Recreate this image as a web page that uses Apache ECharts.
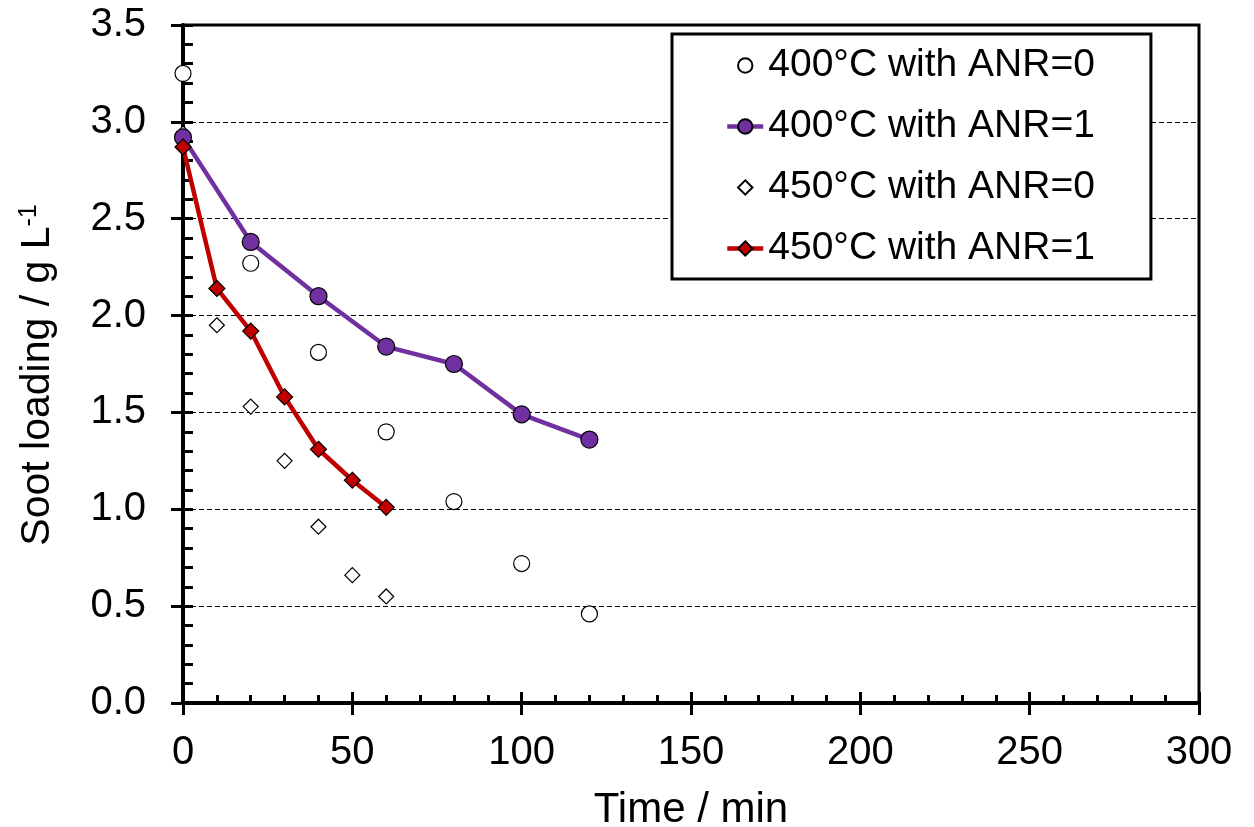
<!DOCTYPE html>
<html>
<head>
<meta charset="utf-8">
<script src="https://cdn.jsdelivr.net/npm/echarts@6/dist/echarts.min.js"></script>
<style>html,body{margin:0;padding:0;background:#fff;}#chart{width:1254px;height:827px;}</style>
</head>
<body>
<div id="chart"></div>
<script>
// Data
const seriesNames = ['400°C with ANR=0', '400°C with ANR=1', '450°C with ANR=0', '450°C with ANR=1'];
const time400 = [0, 20, 40, 60, 80, 100, 120];
const soot400ANR0 = [3.25, 2.27, 1.81, 1.40, 1.04, 0.72, 0.46];
const soot400ANR1 = [2.92, 2.38, 2.10, 1.84, 1.75, 1.49, 1.36];
const time450 = [0, 10, 20, 30, 40, 50, 60];
const soot450ANR0 = [2.94, 1.95, 1.53, 1.25, 0.91, 0.66, 0.55];
const soot450ANR1 = [2.87, 2.14, 1.92, 1.58, 1.31, 1.15, 1.01];
const xTicks = [0, 50, 100, 150, 200, 250, 300];
const yTicks = [0, 0.5, 1.0, 1.5, 2.0, 2.5, 3.0, 3.5];

const pairs = (xs, ys) => xs.map((x, i) => [x, ys[i]]);
const FONT = '"Liberation Sans", Arial, sans-serif';
const PURPLE = '#7030A0';
const RED = '#C00000';
const LINE_W = 4.5;

const chart = echarts.init(document.getElementById('chart'), null, {renderer: 'canvas'});

const xCommon = {
  type: 'value', min: xTicks[0], max: xTicks[xTicks.length - 1], interval: 50, gridIndex: 0, position: 'bottom'
};
const yCommon = {
  type: 'value', min: yTicks[0], max: yTicks[yTicks.length - 1], interval: 0.5, gridIndex: 0, position: 'left'
};

const option = {
  backgroundColor: '#fff',
  animation: false,
  grid: {
    left: 183, right: 55, top: 25, bottom: 124,
    containLabel: false,
    outerBoundsMode: 'none',
    show: true, borderColor: '#000', borderWidth: 3, backgroundColor: 'transparent'
  },
  legend: {
    orient: 'vertical',
    left: 672, top: 34,
    backgroundColor: '#fff',
    borderColor: '#000', borderWidth: 3,
    padding: [12, 56, 11, 53],
    itemGap: 22,
    itemWidth: 36, itemHeight: 18,
    textStyle: {fontFamily: FONT, fontSize: 39, color: '#000'},
    data: [
      {name: seriesNames[0], lineStyle: {width: 0, opacity: 0}},
      {name: seriesNames[1], lineStyle: {width: LINE_W, color: PURPLE}},
      {name: seriesNames[2], lineStyle: {width: 0, opacity: 0}},
      {name: seriesNames[3], lineStyle: {width: LINE_W, color: RED}}
    ]
  },
  xAxis: [
    Object.assign({}, xCommon, {
      name: 'Time / min',
      nameLocation: 'middle',
      nameGap: 86,
      nameTextStyle: {fontFamily: FONT, fontSize: 42, color: '#000'},
      axisLine: {show: true, onZero: false, lineStyle: {color: '#000', width: 4}},
      axisTick: {show: true, inside: false, length: 12, lineStyle: {color: '#000', width: 3}},
      axisLabel: {show: true, margin: 30, fontFamily: FONT, fontSize: 40, color: '#000',
        formatter: v => xTicks.includes(v) ? String(v) : ''},
      splitLine: {show: false}
    }),
    Object.assign({}, xCommon, {
      axisLine: {show: false, onZero: false},
      axisTick: {show: true, inside: true, length: 11, lineStyle: {color: '#000', width: 3}},
      minorTick: {show: true, splitNumber: 5, length: 8, lineStyle: {color: '#000', width: 3}},
      axisLabel: {show: false},
      splitLine: {show: false}
    })
  ],
  yAxis: [
    Object.assign({}, yCommon, {
      name: 'Soot loading / g L{sup|-1}',
      nameLocation: 'middle',
      nameRotate: 90,
      nameGap: 125,
      nameTextStyle: {fontFamily: FONT, fontSize: 41, color: '#000', padding: [0, 22, 0, 0],
        rich: {sup: {fontFamily: FONT, fontSize: 25, color: '#000', verticalAlign: 'top', lineHeight: 41, padding: [0, 0, 18, 0]}}},
      axisLine: {show: true, onZero: false, lineStyle: {color: '#000', width: 4}},
      axisTick: {show: true, inside: false, length: 12, lineStyle: {color: '#000', width: 3}},
      axisLabel: {show: true, margin: 37, fontFamily: FONT, fontSize: 40, color: '#000',
        formatter: v => v.toFixed(1)},
      splitLine: {show: true, lineStyle: {color: '#000', width: 1, type: [5, 3]}}
    }),
    Object.assign({}, yCommon, {
      axisLine: {show: false, onZero: false},
      axisTick: {show: true, inside: true, length: 10, lineStyle: {color: '#000', width: 3}},
      minorTick: {show: true, splitNumber: 5, length: 10, lineStyle: {color: '#000', width: 3}},
      axisLabel: {show: false},
      splitLine: {show: false}
    })
  ],
  series: [
    {
      name: seriesNames[0], type: 'line', xAxisIndex: 0, yAxisIndex: 0, z: 3,
      data: pairs(time400, soot400ANR0),
      symbol: 'circle', symbolSize: 16, clip: false,
      lineStyle: {width: 0, opacity: 0},
      itemStyle: {color: '#fff', borderColor: '#000', borderWidth: 1.2}
    },
    {
      name: seriesNames[1], type: 'line', xAxisIndex: 0, yAxisIndex: 0, z: 5,
      data: pairs(time400, soot400ANR1),
      symbol: 'circle', symbolSize: 17, clip: false,
      lineStyle: {width: LINE_W, color: PURPLE},
      itemStyle: {color: PURPLE, borderColor: '#000', borderWidth: 1.2}
    },
    {
      name: seriesNames[2], type: 'line', xAxisIndex: 0, yAxisIndex: 0, z: 3,
      data: pairs(time450, soot450ANR0),
      symbol: 'diamond', symbolSize: 15, clip: false,
      lineStyle: {width: 0, opacity: 0},
      itemStyle: {color: '#fff', borderColor: '#000', borderWidth: 1.2}
    },
    {
      name: seriesNames[3], type: 'line', xAxisIndex: 0, yAxisIndex: 0, z: 6,
      data: pairs(time450, soot450ANR1),
      symbol: 'diamond', symbolSize: 16, clip: false,
      lineStyle: {width: LINE_W, color: RED},
      itemStyle: {color: RED, borderColor: '#000', borderWidth: 1.2}
    }
  ]
};
chart.setOption(option);
</script>
</body>
</html>
